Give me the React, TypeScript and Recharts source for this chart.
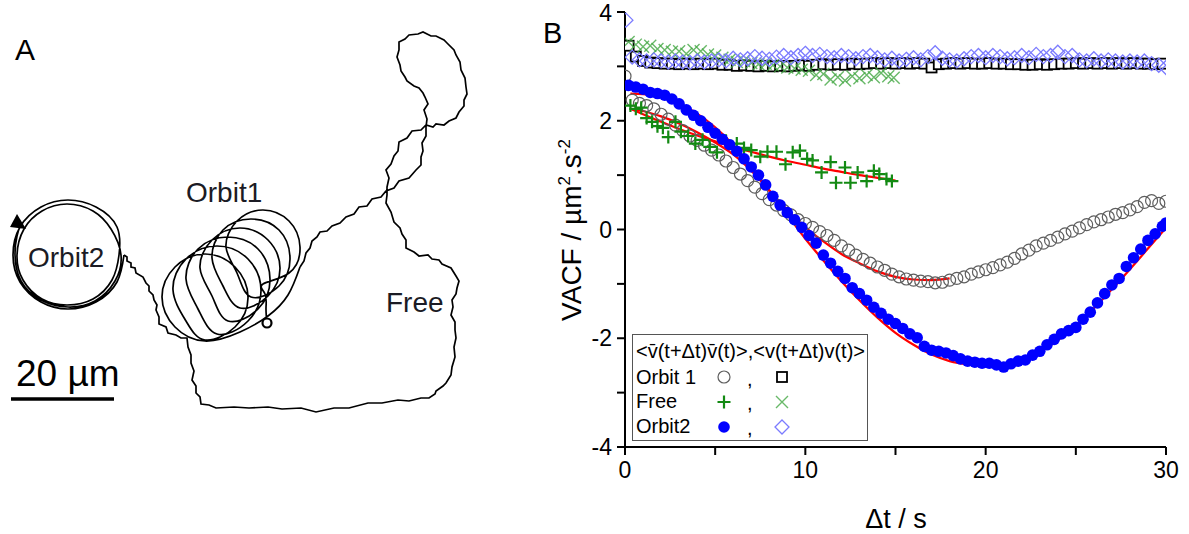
import React from "react";
import { ComposedChart, LineChart, Line, Scatter, XAxis, YAxis } from "recharts";

const FONT = "Arial, 'Liberation Sans', sans-serif";

// ---- Panel A: cell trajectory (image pixel units, 20 µm ≈ 103 px) ----
const orbit1Path: [number, number][] = [
  [267, 323], [266, 308], [265, 294],
  [263, 284], [289, 273], [300, 247], [289, 221], [263, 210], [237, 221], [226, 247], [237, 273],
  [251, 297], [279, 286], [290, 258], [279, 230], [251, 219], [223, 230], [212, 258], [223, 286],
  [240, 308], [268, 296], [280, 268], [268, 240], [240, 228], [212, 240], [200, 268], [212, 296],
  [228, 321], [258, 309], [270, 279], [258, 249], [228, 237], [198, 249], [186, 279], [198, 309],
  [217, 334], [248, 321], [261, 290], [248, 259], [217, 246], [186, 259], [173, 290], [186, 321],
  [205, 340], [235, 327], [248, 297], [235, 267], [205, 254], [175, 267], [162, 297], [175, 327],
  [205, 341], [240, 332], [268, 316], [288, 295], [300, 267],
];

const freePath: [number, number][] = [
  [300, 267], [304, 261], [306, 253], [310, 248], [312, 241], [317, 237], [320, 232], [327, 231],
  [332, 226], [340, 223], [346, 217], [354, 214], [359, 207], [367, 206], [372, 199], [381, 197],
  [386, 191], [394, 188], [399, 181], [409, 178], [416, 170], [421, 165], [421, 157], [423, 151],
  [422, 143], [426, 136], [426, 127], [427, 119], [424, 110], [428, 104], [425, 97], [423, 93],
  [419, 88], [414, 86], [407, 81], [405, 77], [401, 71], [400, 65], [397, 57], [399, 50],
  [399, 42], [405, 39], [409, 35], [418, 34], [423, 32], [431, 36], [436, 36], [444, 40],
  [447, 43], [454, 50], [456, 55], [460, 62], [461, 70], [465, 78], [466, 87], [467, 94],
  [464, 100], [464, 106], [459, 112], [456, 118], [449, 121], [444, 125], [436, 124], [433, 127],
  [426, 125], [421, 130], [412, 131], [407, 138], [399, 142], [398, 151], [394, 156], [391, 164],
  [386, 170], [389, 178], [387, 187], [387, 195], [386, 203], [391, 212], [394, 222], [400, 228],
  [402, 234], [406, 240], [406, 248], [414, 252], [419, 256], [428, 255], [432, 259], [439, 260],
  [442, 264], [451, 268], [456, 276], [459, 281], [457, 288], [456, 294], [452, 300], [453, 307],
  [451, 315], [455, 322], [455, 330], [456, 338], [454, 347], [455, 357], [452, 367], [451, 375],
  [446, 383], [443, 386], [436, 391], [435, 394], [429, 398], [421, 398], [409, 401], [398, 400],
  [382, 403], [368, 403], [349, 408], [334, 408], [316, 412], [301, 408], [282, 409], [268, 407],
  [249, 408], [234, 407], [216, 408], [209, 405], [201, 404], [200, 397], [196, 393], [196, 386],
  [192, 380], [194, 371], [191, 363], [191, 355], [188, 347], [187, 338], [181, 338], [176, 335],
  [168, 333], [166, 327], [159, 324], [159, 317], [156, 310], [157, 305], [154, 300], [153, 295],
  [149, 291], [149, 286], [146, 283], [143, 277], [136, 273], [135, 268], [131, 267], [131, 263],
  [127, 261], [127, 257], [124, 255],
];

const orbit2Path: [number, number][] = [
  [124, 255], [117, 282], [96, 302], [68, 309], [41, 302], [20, 282], [13, 255], [20, 227],
  [41, 207], [68, 200], [96, 207], [117, 227],
  [119, 255], [112, 280], [93, 299], [67, 305], [42, 299], [23, 280], [17, 255], [24, 229],
  [42, 211], [67, 204], [93, 211], [111, 229],
  [121, 255], [115, 281], [95, 301], [68, 307], [41, 300], [21, 281], [15, 255], [17, 236],
  [20, 226],
];

// ---- Panel B: velocity autocorrelation ----
const xTicks = [0, 5, 10, 15, 20, 25, 30];
const yTicks = [-4, -3, -2, -1, 0, 1, 2, 3, 4];

// Orbit 1, <v̄(t+Δt)v̄(t)> (open circles)
const orbit1Bar: [number, number][] = [
  [0, 2.82], [0.4, 2.38], [0.8, 2.32], [1.2, 2.28], [1.6, 2.22], [2, 2.12], [2.4, 2.03], [2.8, 1.92],
  [3.2, 1.82], [3.6, 1.72], [4, 1.64], [4.4, 1.55], [4.8, 1.46], [5.2, 1.37], [5.6, 1.26], [6, 1.14],
  [6.4, 1.02], [6.8, 0.9], [7.2, 0.78], [7.6, 0.66], [8, 0.55], [8.4, 0.45], [8.8, 0.35], [9.2, 0.27],
  [9.6, 0.18], [10, 0.11], [10.4, 0.04], [10.8, -0.04], [11.2, -0.11], [11.6, -0.2], [12, -0.3],
  [12.4, -0.38], [12.8, -0.47], [13.2, -0.55], [13.6, -0.62], [14, -0.69], [14.4, -0.75], [14.8, -0.82],
  [15.2, -0.87], [15.6, -0.91], [16, -0.93], [16.4, -0.95], [16.8, -0.96], [17.2, -0.98], [17.6, -0.97],
  [18, -0.93], [18.4, -0.9], [18.8, -0.87], [19.2, -0.82], [19.6, -0.78], [20, -0.74], [20.4, -0.7],
  [20.8, -0.65], [21.2, -0.6], [21.6, -0.53], [22, -0.45], [22.4, -0.38], [22.8, -0.3], [23.2, -0.25],
  [23.6, -0.2], [24, -0.14], [24.4, -0.08], [24.8, -0.03], [25.2, 0.03], [25.6, 0.09], [26, 0.14],
  [26.4, 0.18], [26.8, 0.23], [27.2, 0.28], [27.6, 0.31], [28, 0.36], [28.4, 0.42], [28.8, 0.5],
  [29.2, 0.53], [29.6, 0.48], [30, 0.52],
];
const orbit1Fit: [number, number][] = [
  [0.3, 2.22], [1, 2.18], [2, 2.08], [3, 1.95], [4, 1.79], [5, 1.6], [6, 1.38], [7, 1.08], [8, 0.72],
  [9, 0.36], [10, 0.04], [11, -0.22], [12, -0.45], [13, -0.62], [14, -0.77], [15, -0.87], [16, -0.92],
  [17, -0.93], [18, -0.9],
];
// Orbit 1, <v(t+Δt)v(t)> (squares)
const orbit1Raw: [number, number][] = [
  [0.2, 3.38], [0.6, 3.18], [1, 3.1], [1.4, 3.07], [1.8, 3.06], [2.2, 3.05], [2.6, 3.05], [3, 3.04],
  [3.4, 3.05], [3.8, 3.04], [4.2, 3.05], [4.6, 3.04], [5, 3.05], [5.4, 3.03], [5.8, 3.03], [6.2, 3.01],
  [6.6, 3.02], [7, 3.01], [7.4, 3.0], [7.8, 3.01], [8.2, 3.0], [8.6, 3.01], [9, 3.0], [9.4, 3.01],
  [9.8, 3.02], [10.2, 3.01], [10.6, 3.03], [11, 3.04], [11.4, 3.03], [11.8, 3.04], [12.2, 3.03],
  [12.6, 3.05], [13, 3.04], [13.4, 3.05], [13.8, 3.06], [14.2, 3.05], [14.6, 3.06], [15, 3.05],
  [15.4, 3.06], [15.8, 3.05], [16.2, 3.06], [16.6, 3.05], [17, 2.98], [17.4, 3.04], [17.8, 3.05],
  [18.2, 3.06], [18.6, 3.05], [19, 3.06], [19.4, 3.05], [19.8, 3.05], [20.2, 3.06], [20.6, 3.05],
  [21, 3.05], [21.4, 3.04], [21.8, 3.04], [22.2, 3.03], [22.6, 3.03], [23, 3.04], [23.4, 3.03],
  [23.8, 3.04], [24.2, 3.05], [24.6, 3.05], [25, 3.06], [25.4, 3.05], [25.8, 3.06], [26.2, 3.05],
  [26.6, 3.06], [27, 3.05], [27.4, 3.06], [27.8, 3.05], [28.2, 3.06], [28.6, 3.05], [29, 3.05],
  [29.4, 3.04], [29.8, 3.05],
];

// Free, <v̄v̄> (plus) and <vv> (cross)
const freeBar: [number, number][] = [
  [0.3, 2.28], [0.6, 2.22], [0.9, 2.24], [1.2, 2.05], [1.5, 1.98], [1.8, 1.9], [2.1, 1.87], [2.4, 1.7],
  [2.8, 1.98], [3.1, 1.8], [3.5, 1.72], [3.9, 1.58], [4.3, 1.65], [4.7, 1.52], [5.1, 1.42], [5.6, 1.63],
  [6.2, 1.58], [6.6, 1.5], [7, 1.46], [7.5, 1.34], [7.9, 1.43], [8.4, 1.43], [8.9, 1.2], [9.3, 1.42],
  [9.7, 1.45], [10.1, 1.3], [10.4, 1.27], [10.9, 1.05], [11.4, 1.24], [11.7, 0.86], [12.2, 1.14],
  [12.5, 0.86], [12.9, 1.05], [13.4, 0.89], [13.8, 1.08], [14.1, 1.02], [14.5, 0.93], [14.8, 0.89],
];
const freeFit: [number, number][] = [
  [0.3, 2.22], [1, 2.12], [2, 1.98], [3, 1.85], [4, 1.73], [5, 1.62], [6, 1.52], [7, 1.43], [8, 1.34],
  [9, 1.26], [10, 1.19], [11, 1.12], [12, 1.06], [13, 1.0], [14, 0.95], [15, 0.9],
];
const freeRaw: [number, number][] = [
  [0.2, 3.45], [0.6, 3.4], [1, 3.36], [1.4, 3.38], [1.8, 3.32], [2.2, 3.3], [2.6, 3.27], [3, 3.28],
  [3.4, 3.23], [3.8, 3.3], [4.2, 3.28], [4.6, 3.22], [5, 3.2], [5.4, 3.16], [5.8, 3.12], [6.2, 3.08],
  [6.6, 3.1], [7, 3.06], [7.4, 3.04], [7.8, 3.05], [8.2, 3.02], [8.6, 3.0], [9, 2.98], [9.4, 2.96],
  [9.8, 2.94], [10.2, 2.92], [10.6, 2.84], [11, 2.86], [11.4, 2.76], [11.8, 2.8], [12.2, 2.74],
  [12.6, 2.82], [13, 2.78], [13.4, 2.84], [13.8, 2.8], [14.2, 2.88], [14.6, 2.82], [14.9, 2.79],
];

// Orbit 2, <v̄v̄> (filled circles) and <vv> (diamonds)
const orbit2Bar: [number, number][] = [
  [0.2, 2.65], [0.6, 2.62], [1, 2.58], [1.4, 2.52], [1.8, 2.5], [2.2, 2.47], [2.6, 2.4], [3, 2.31],
  [3.4, 2.2], [3.8, 2.1], [4.2, 2.0], [4.6, 1.88], [5, 1.77], [5.4, 1.66], [5.8, 1.56], [6.2, 1.44],
  [6.6, 1.3], [7, 1.15], [7.4, 1.0], [7.8, 0.82], [8.2, 0.61], [8.6, 0.45], [9, 0.31], [9.4, 0.18],
  [9.8, 0.04], [10.2, -0.11], [10.6, -0.25], [11, -0.47], [11.4, -0.62], [11.8, -0.77], [12.2, -0.9],
  [12.6, -1.07], [13, -1.18], [13.4, -1.3], [13.8, -1.43], [14.2, -1.54], [14.6, -1.65], [15, -1.73],
  [15.4, -1.82], [15.8, -1.92], [16.2, -1.99], [16.6, -2.15], [17, -2.22], [17.4, -2.24], [17.8, -2.27],
  [18.2, -2.32], [18.6, -2.38], [19, -2.42], [19.4, -2.44], [19.8, -2.46], [20.2, -2.46], [20.6, -2.49],
  [21, -2.53], [21.4, -2.47], [21.8, -2.42], [22.2, -2.4], [22.6, -2.31], [23, -2.24], [23.4, -2.12],
  [23.8, -2.02], [24.2, -1.92], [24.6, -1.86], [25, -1.8], [25.4, -1.65], [25.8, -1.52], [26.2, -1.35],
  [26.6, -1.18], [27, -1.02], [27.4, -0.9], [27.8, -0.68], [28.2, -0.52], [28.6, -0.36], [29, -0.2],
  [29.4, -0.08], [29.8, 0.06], [30, 0.12],
];
const orbit2Fit: [number, number][] = [
  [0.3, 2.5], [1, 2.49], [2, 2.44], [3, 2.32], [4, 2.13], [5, 1.88], [6, 1.56], [7, 1.16], [8, 0.71],
  [9, 0.27], [10, -0.17], [11, -0.57], [12, -0.95], [13, -1.3], [14, -1.62], [15, -1.9], [16, -2.12],
  [17, -2.3], [18, -2.42], [19, -2.48], [20, -2.5], [21, -2.48], [22, -2.4], [23, -2.25], [24, -2.04],
  [25, -1.77], [26, -1.45], [27, -1.1], [28, -0.73], [29, -0.35], [30, 0.03],
];
const orbit2Raw: [number, number][] = [
  [0.05, 3.85], [0.4, 3.17], [0.8, 3.12], [1.2, 3.1], [1.6, 3.12], [2, 3.1], [2.4, 3.08], [2.8, 3.1],
  [3.2, 3.08], [3.6, 3.07], [4, 3.1], [4.4, 3.08], [4.8, 3.1], [5.2, 3.12], [5.6, 3.1], [6, 3.15],
  [6.4, 3.12], [6.8, 3.14], [7.2, 3.18], [7.6, 3.15], [8, 3.13], [8.4, 3.17], [8.8, 3.2], [9.2, 3.16],
  [9.6, 3.2], [10, 3.24], [10.4, 3.2], [10.8, 3.22], [11.2, 3.18], [11.6, 3.16], [12, 3.2], [12.4, 3.18],
  [12.8, 3.14], [13.2, 3.18], [13.6, 3.2], [14, 3.16], [14.4, 3.12], [14.8, 3.15], [15.2, 3.1],
  [15.6, 3.13], [16, 3.16], [16.4, 3.12], [16.8, 3.18], [17.2, 3.25], [17.6, 3.15], [18, 3.12],
  [18.4, 3.1], [18.8, 3.14], [19.2, 3.18], [19.6, 3.2], [20, 3.16], [20.4, 3.2], [20.8, 3.18],
  [21.2, 3.14], [21.6, 3.16], [22, 3.2], [22.4, 3.16], [22.8, 3.22], [23.2, 3.18], [23.6, 3.2],
  [24, 3.26], [24.4, 3.18], [24.8, 3.2], [25.2, 3.12], [25.6, 3.1], [26, 3.14], [26.4, 3.1],
  [26.8, 3.12], [27.2, 3.1], [27.6, 3.08], [28, 3.1], [28.4, 3.08], [28.8, 3.1], [29.2, 3.05],
  [29.6, 3.02], [30, 2.98],
];

const xy = (a: [number, number][]) => a.map(([x, y]) => ({ x, y }));
const tv = (a: [number, number][]) => a.map(([t, v]) => ({ t, v }));

// marker shapes
const OpenCircle = ({ cx, cy }: any) => <circle cx={cx} cy={cy} r={6} fill="none" stroke="#5e5e5e" strokeWidth={1.2} />;
const FilledCircle = ({ cx, cy }: any) => <circle cx={cx} cy={cy} r={5.8} fill="#0000ff" />;
const Square = ({ cx, cy }: any) => (
  <rect x={cx - 5} y={cy - 5} width={10} height={10} fill="#fff" stroke="#000" strokeWidth={1.8} />
);
const Plus = ({ cx, cy }: any) => (
  <path d={`M${cx - 6.5},${cy}H${cx + 6.5}M${cx},${cy - 6.5}V${cy + 6.5}`} stroke="#138a13" strokeWidth={2.2} />
);
const Cross = ({ cx, cy }: any) => (
  <path
    d={`M${cx - 6},${cy - 6}L${cx + 6},${cy + 6}M${cx - 6},${cy + 6}L${cx + 6},${cy - 6}`}
    stroke="#44a844"
    strokeOpacity={0.8}
    strokeWidth={1.4}
  />
);
const Diamond = ({ cx, cy }: any) => (
  <path d={`M${cx},${cy - 7}L${cx + 7},${cy}L${cx},${cy + 7}L${cx - 7},${cy}Z`} fill="none" stroke="#7b7bff" strokeWidth={1.3} />
);

const axisStroke = { stroke: "#000", strokeWidth: 2 };
const tickFont = { fill: "#000", fontSize: 23, fontFamily: FONT };

function TrajectoryPanel() {
  const last = orbit2Path.length - 1;
  return (
    <LineChart width={490} height={534} margin={{ top: 0, right: 0, bottom: 0, left: 0 }}>
      <XAxis type="number" dataKey="x" domain={[0, 490]} hide allowDataOverflow />
      <YAxis type="number" dataKey="y" domain={[0, 534]} reversed hide allowDataOverflow />
      <Line
        data={xy(orbit1Path)}
        dataKey="y"
        type="natural"
        stroke="#000"
        strokeWidth={1.7}
        isAnimationActive={false}
        activeDot={false}
        dot={(p: any) =>
          p.index === 0 ? (
            <circle key="start" cx={p.cx} cy={p.cy} r={4.5} fill="#fff" stroke="#000" strokeWidth={2.2} />
          ) : (
            <g key={p.index} />
          )
        }
      />
      <Line
        data={xy(freePath)}
        dataKey="y"
        type="linear"
        stroke="#000"
        strokeWidth={1.7}
        dot={false}
        activeDot={false}
        isAnimationActive={false}
      />
      <Line
        data={xy(orbit2Path)}
        dataKey="y"
        type="natural"
        stroke="#000"
        strokeWidth={1.7}
        isAnimationActive={false}
        activeDot={false}
        dot={(p: any) =>
          p.index === last ? (
            <path key="arrow" d={`M${p.cx - 3},${p.cy - 12}L${p.cx + 6},${p.cy + 3}L${p.cx - 10},${p.cy + 1}Z`} fill="#000" />
          ) : (
            <g key={p.index} />
          )
        }
      />
    </LineChart>
  );
}

function VacfPanel() {
  return (
    <ComposedChart width={649} height={534} margin={{ top: 12, right: 23, bottom: 47, left: 40 }}>
      <XAxis
        type="number"
        dataKey="t"
        domain={[0, 30]}
        ticks={xTicks}
        tickFormatter={(t: number) => (t % 10 === 0 ? String(t) : "")}
        height={40}
        tickSize={8}
        tickMargin={7}
        axisLine={axisStroke}
        tickLine={axisStroke}
        tick={tickFont}
        allowDataOverflow
      />
      <XAxis
        xAxisId="top"
        orientation="top"
        mirror
        type="number"
        dataKey="t"
        domain={[0, 30]}
        ticks={xTicks}
        tick={false}
        tickSize={8}
        axisLine={axisStroke}
        tickLine={axisStroke}
        height={0}
        allowDataOverflow
      />
      <YAxis
        type="number"
        domain={[-4, 4]}
        ticks={yTicks}
        tickFormatter={(v: number) => (v % 2 === 0 ? String(v) : "")}
        width={45}
        tickSize={8}
        tickMargin={5}
        axisLine={axisStroke}
        tickLine={axisStroke}
        tick={tickFont}
        allowDataOverflow
      />
      <YAxis
        yAxisId="right"
        orientation="right"
        mirror
        type="number"
        domain={[-4, 4]}
        ticks={yTicks}
        tick={false}
        tickSize={8}
        width={0}
        axisLine={axisStroke}
        tickLine={axisStroke}
        allowDataOverflow
      />
      <Scatter data={tv(orbit1Raw)} dataKey="v" shape={(p: any) => <Square {...p} />} isAnimationActive={false} />
      <Scatter data={tv(freeRaw)} dataKey="v" shape={(p: any) => <Cross {...p} />} isAnimationActive={false} />
      <Scatter data={tv(orbit2Raw)} dataKey="v" shape={(p: any) => <Diamond {...p} />} isAnimationActive={false} />
      <Scatter data={tv(orbit1Bar)} dataKey="v" shape={(p: any) => <OpenCircle {...p} />} isAnimationActive={false} />
      <Scatter data={tv(freeBar)} dataKey="v" shape={(p: any) => <Plus {...p} />} isAnimationActive={false} />
      <Scatter data={tv(orbit2Bar)} dataKey="v" shape={(p: any) => <FilledCircle {...p} />} isAnimationActive={false} />
      <Line data={tv(orbit1Fit)} dataKey="v" type="monotone" stroke="#ff0000" strokeWidth={2.2} dot={false} activeDot={false} isAnimationActive={false} />
      <Line data={tv(freeFit)} dataKey="v" type="monotone" stroke="#ff0000" strokeWidth={2.2} dot={false} activeDot={false} isAnimationActive={false} />
      <Line data={tv(orbit2Fit)} dataKey="v" type="monotone" stroke="#ff0000" strokeWidth={2.2} dot={false} activeDot={false} isAnimationActive={false} />
    </ComposedChart>
  );
}

function Overlay() {
  const txt = { fontFamily: FONT, fill: "#000" };
  return (
    <svg width={1189} height={534} style={{ position: "absolute", left: 0, top: 0, pointerEvents: "none" }}>
      <text x={15} y={60} fontSize={30} {...txt}>A</text>
      <text x={186} y={202} fontSize={28} {...txt} fill="#1b1b24">Orbit1</text>
      <text x={28} y={267} fontSize={28} {...txt} fill="#1b1b24">Orbit2</text>
      <text x={386} y={312} fontSize={28} {...txt} fill="#1b1b24">Free</text>
      <text x={16} y={386} fontSize={37} {...txt}>20 µm</text>
      <line x1={11} x2={114} y1={399} y2={399} stroke="#000" strokeWidth={3.5} />

      <text x={543} y={43} fontSize={29} {...txt}>B</text>
      <text transform="translate(581,230) rotate(-90)" textAnchor="middle" fontSize={28} {...txt}>
        VACF / µm<tspan dy={-11} fontSize={17}>2</tspan>
        <tspan dy={11}>.s</tspan>
        <tspan dy={-11} fontSize={17}>-2</tspan>
      </text>
      <text x={896} y={528} textAnchor="middle" fontSize={27} {...txt}>Δt / s</text>

      <rect x={632.5} y={334.5} width={235} height={106} fill="#fff" stroke="#555" strokeWidth={1} />
      <g fontSize={20} {...txt}>
        <text x={636} y={358}>{"<v\u0304(t+Δt)v\u0304(t)>,<v(t+Δt)v(t)>"}</text>
        <text x={636} y={384}>Orbit 1</text>
        <text x={636} y={408}>Free</text>
        <text x={636} y={433}>Orbit2</text>
        <text x={747} y={386}>,</text>
        <text x={747} y={410}>,</text>
        <text x={747} y={435}>,</text>
      </g>
      <OpenCircle cx={724} cy={377} />
      <Square cx={782} cy={377} />
      <Plus cx={724} cy={402} />
      <Cross cx={782} cy={402} />
      <FilledCircle cx={724} cy={427} />
      <Diamond cx={782} cy={427} />
    </svg>
  );
}

export default function App() {
  return (
    <div style={{ position: "absolute", left: 0, top: 0, width: 1189, height: 534, background: "#fff", overflow: "hidden" }}>
      <div style={{ position: "absolute", left: 0, top: 0 }}>
        <TrajectoryPanel />
      </div>
      <div style={{ position: "absolute", left: 540, top: 0 }}>
        <VacfPanel />
      </div>
      <Overlay />
    </div>
  );
}
